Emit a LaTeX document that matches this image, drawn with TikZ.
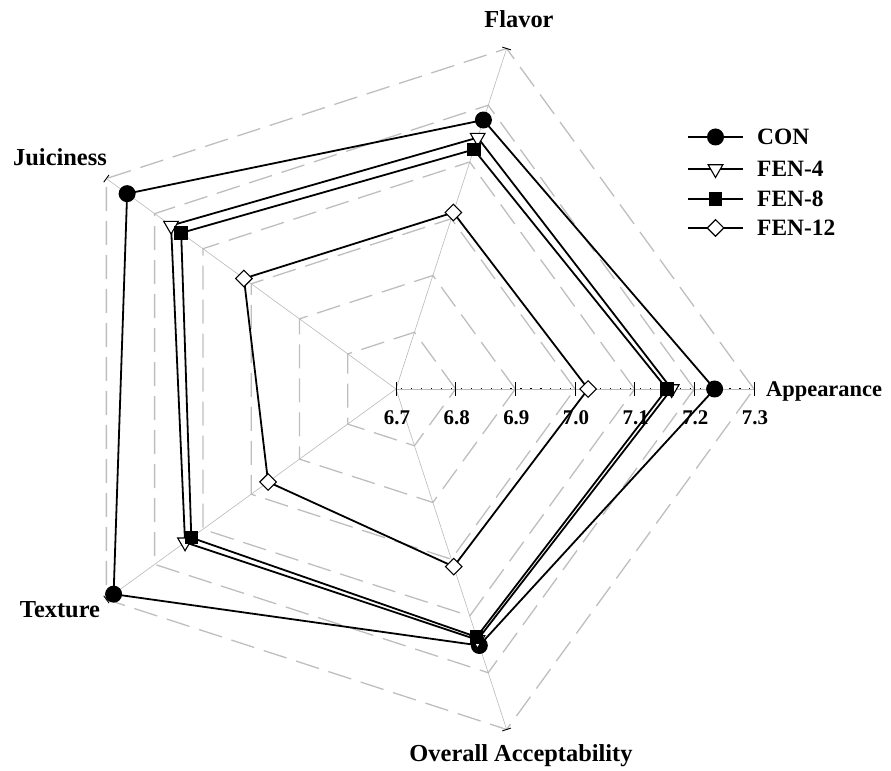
\documentclass[tikz,border=0pt]{standalone}
\usepackage{fontspec}
\setmainfont{Liberation Serif}
\usetikzlibrary{shapes.geometric}
\definecolor{gridgray}{RGB}{190,190,190}
\definecolor{spokegray}{RGB}{185,185,185}
\newcommand\dpt[3]{\coordinate (#1) at (#2:{(#3-6.7)*596.67});}
\begin{document}
\begin{tikzpicture}[x=1bp,y=1bp,
  gridline/.style={draw=gridgray, line width=1.3bp, dash pattern=on 24bp off 10bp},
  spoke/.style={draw=spokegray, line width=0.6bp},
  axtick/.style={draw=black, line width=0.9bp},
  series/.style={draw=black, line width=1.8bp, line join=miter},
  mcon/.style={circle, fill=black, minimum size=17bp, inner sep=0pt},
  mfenfour/.style={regular polygon, regular polygon sides=3, shape border rotate=180, draw=black, fill=white, line width=1.1bp, minimum size=17bp, inner sep=0pt},
  mfeneight/.style={rectangle, fill=black, minimum size=13.5bp, inner sep=0pt},
  mfentwelve/.style={diamond, draw=black, fill=white, line width=1.1bp, minimum size=17bp, inner sep=0pt},
  lab/.style={font=\bfseries\fontsize{24.5}{26}\selectfont, inner sep=0pt},
  ticklab/.style={font=\bfseries\fontsize{21}{23}\selectfont, inner sep=0pt},
  leglab/.style={font=\bfseries\fontsize{23.5}{25}\selectfont, inner sep=0pt, anchor=west}
]
\useasboundingbox (0,0) rectangle (891,771);
\begin{scope}[shift={(396,382)}]
  % grid pentagons
  \foreach \k in {1,...,6}{
    \draw[gridline] (0:{\k*59.667}) -- (72:{\k*59.667}) -- (144:{\k*59.667}) -- (216:{\k*59.667}) -- (288:{\k*59.667}) -- cycle;
  }
  % spokes
  \coordinate (ctr) at (0,0);
  \foreach \a in {72,144,216,288}{
    \coordinate (end\a) at (\a:358);
    \draw[spoke] (ctr) -- (end\a);
    \draw[axtick] (end\a) ++(\a+90:4.5) -- ++(\a-90:9);
  }
  % appearance axis
  \coordinate (end0) at (0:358);
  \draw[spoke] (ctr) -- (end0);
  \draw[black, line width=1bp, dash pattern=on 1.2bp off 8.75bp, dash phase=-5bp] (ctr) -- (end0);
  \foreach \i/\t in {0/6.7,1/6.8,2/6.9,3/7.0,4/7.1,5/7.2,6/7.3}{
    \draw[axtick] ({\i*59.667},-7) -- ({\i*59.667},7);
    \node[ticklab, anchor=base] (tl\i) at ({\i*59.667+1},-36) {\t};
  }
  % data points
  \dpt{con1}{0}{7.234}\dpt{con2}{72}{7.174}\dpt{con3}{144}{7.257}\dpt{con4}{216}{7.285}\dpt{con5}{288}{7.152}
  \dpt{ff1}{0}{7.162}\dpt{ff2}{72}{7.143}\dpt{ff3}{144}{7.166}\dpt{ff4}{216}{7.137}\dpt{ff5}{288}{7.142}
  \dpt{fe1}{0}{7.154}\dpt{fe2}{72}{7.122}\dpt{fe3}{144}{7.145}\dpt{fe4}{216}{7.124}\dpt{fe5}{288}{7.137}
  \dpt{ft1}{0}{7.022}\dpt{ft2}{72}{7.011}\dpt{ft3}{144}{7.015}\dpt{ft4}{216}{6.965}\dpt{ft5}{288}{7.013}
  % CON
  \draw[series] (con1) -- (con2) -- (con3) -- (con4) -- (con5) -- cycle;
  \foreach \i in {1,...,5} \node[mcon] (mcon\i) at (con\i) {};
  % FEN-4
  \draw[series] (ff1) -- (ff2) -- (ff3) -- (ff4) -- (ff5) -- cycle;
  \foreach \i in {1,...,5} \node[mfenfour] (mff\i) at (ff\i) {};
  % FEN-8
  \draw[series] (fe1) -- (fe2) -- (fe3) -- (fe4) -- (fe5) -- cycle;
  \foreach \i in {1,...,5} \node[mfeneight] (mfe\i) at (fe\i) {};
  % FEN-12
  \draw[series] (ft1) -- (ft2) -- (ft3) -- (ft4) -- (ft5) -- cycle;
  \foreach \i in {1,...,5} \node[mfentwelve] (mft\i) at (ft\i) {};
\end{scope}
% axis labels
\node[lab, anchor=base] (lflavor) at (519,743) {Flavor};
\node[lab, anchor=base] (ljuic) at (60,605) {Juiciness};
\node[lab, anchor=base west, font=\bfseries\fontsize{22.5}{24}\selectfont] (lapp) at (766,374) {Appearance};
\node[lab, anchor=base] (ltex) at (60,153) {Texture};
\node[lab, anchor=base] (lover) at (521,9) {Overall Acceptability};
% legend
\foreach \y/\m/\t/\n in {634/mcon/CON/a, 602/mfenfour/FEN-4/b, 572/mfeneight/FEN-8/c, 543/mfentwelve/FEN-12/d}{
  \coordinate (lgl\n) at (688,\y);
  \coordinate (lgr\n) at (743,\y);
  \draw[series] (lgl\n) -- (lgr\n);
  \node[\m] (lgm\n) at (715.5,\y) {};
  \node[leglab] (lgt\n) at (757,\y) {\t};
}
\end{tikzpicture}
\end{document}
